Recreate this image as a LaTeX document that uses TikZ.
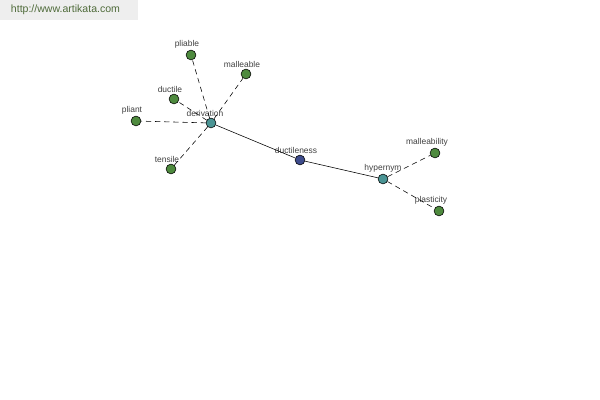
\documentclass[tikz,border=0pt]{standalone}
\usepackage{fontspec}
\setmainfont{Liberation Sans}
\usepackage{tikz}
\definecolor{leaf}{HTML}{4E8A3E}
\definecolor{hub}{HTML}{4A9494}
\definecolor{core}{HTML}{3E4C8C}
\definecolor{wm}{HTML}{EEEEEE}
\definecolor{wmtext}{HTML}{4F6B3A}
\tikzset{
  every picture/.style={font=\fontsize{6}{7}\selectfont, line join=round, line cap=round},
  word/.style={circle, draw=black, line width=0.4pt, inner sep=0pt, minimum size=7pt},
  leafnode/.style={word, fill=leaf},
  hubnode/.style={word, fill=hub},
  corenode/.style={word, fill=core},
  lbl/.style={text=black!75, inner sep=1pt},
  rel/.style={line width=0.4pt},
  relx/.style={line width=0.4pt, dash pattern=on 3.5pt off 3pt},
}

\begin{document}
\begin{tikzpicture}[x=0.025cm,y=-0.025cm]
\useasboundingbox (0,0) rectangle (600,400);
\fill[wm] (0,0) rectangle (138,20);
\node[text=wmtext, font=\fontsize{7.5}{9}\selectfont, anchor=west] (site) at (6,10) {http://www.artikata.com};
% nodes
\node[corenode, label={[lbl,xshift=-0.1cm]above:ductileness}] (ductileness) at (300,160) {};
\node[hubnode, label={[lbl,xshift=-0.15cm]above:derivation}] (derivation) at (211,123) {};
\node[hubnode, label={[lbl]above:hypernym}] (hypernym) at (383,179) {};
\node[leafnode, label={[lbl,xshift=-0.1cm]above:pliable}] (pliable) at (191,55) {};
\node[leafnode, label={[lbl,xshift=-0.1cm]above:malleable}] (malleable) at (246,74) {};
\node[leafnode, label={[lbl,xshift=-0.1cm]above:ductile}] (ductile) at (174,99) {};
\node[leafnode, label={[lbl,xshift=-0.1cm]above:pliant}] (pliant) at (136,121) {};
\node[leafnode, label={[lbl,xshift=-0.1cm]above:tensile}] (tensile) at (171,169) {};
\node[leafnode, label={[lbl,xshift=-0.2cm]above:malleability}] (malleability) at (435,153) {};
\node[leafnode, label={[lbl,xshift=-0.2cm]above:plasticity}] (plasticity) at (439,211) {};
% edges
\draw[rel] (derivation) -- (ductileness);
\draw[rel] (ductileness) -- (hypernym);
\foreach \w in {pliable,malleable,ductile,pliant,tensile}
  \draw[relx] (derivation) -- (\w);
\foreach \w in {malleability,plasticity}
  \draw[relx] (hypernym) -- (\w);
\end{tikzpicture}
\end{document}
